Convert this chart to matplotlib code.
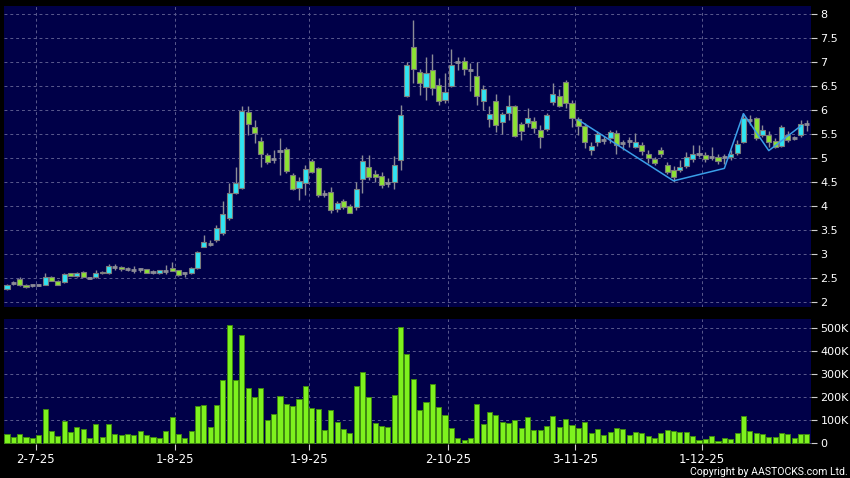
import matplotlib
matplotlib.use("Agg")
import matplotlib.pyplot as plt
from matplotlib import font_manager
from matplotlib.ticker import FuncFormatter

# one entry per trading day, oldest first
opens = [2.27, 2.41, 2.48, 2.37, 2.35, 2.35, 2.37, 2.52, 2.44, 2.42,
         2.60, 2.54, 2.64, 2.51, 2.52, 2.64, 2.60, 2.74, 2.74, 2.69,
         2.67, 2.69, 2.69, 2.64, 2.60, 2.66, 2.71, 2.67, 2.60, 2.60,
         2.72, 3.16, 3.22, 3.30, 3.45, 3.75, 4.27, 4.39, 5.96, 5.65,
         5.36, 5.06, 4.99, 5.15, 5.19, 4.65, 4.38, 4.48, 4.95, 4.79,
         4.26, 4.30, 3.94, 4.12, 4.01, 3.99, 4.56, 4.81, 4.67, 4.64,
         4.48, 4.51, 4.96, 6.30, 7.32, 6.79, 6.49, 6.85, 6.52, 6.22,
         6.51, 7.01, 7.03, 6.84, 6.71, 6.20, 5.81, 6.19, 5.75, 5.94,
         6.08, 5.71, 5.73, 5.78, 5.60, 5.61, 6.18, 6.30, 6.59, 6.15,
         5.81, 5.68, 5.17, 5.33, 5.39, 5.43, 5.53, 5.31, 5.36, 5.24,
         5.28, 5.10, 4.98, 5.17, 4.85, 4.76, 4.76, 4.84, 4.98, 5.10,
         5.07, 5.02, 5.03, 5.02, 5.02, 5.11, 5.33, 5.80, 5.83, 5.48,
         5.49, 5.36, 5.26, 5.49, 5.42, 5.48, 5.71]
highs = [2.38, 2.44, 2.52, 2.38, 2.37, 2.39, 2.60, 2.54, 2.46, 2.61,
         2.62, 2.63, 2.65, 2.53, 2.67, 2.66, 2.80, 2.80, 2.75, 2.73,
         2.75, 2.72, 2.70, 2.67, 2.68, 2.78, 2.84, 2.68, 2.63, 2.73,
         3.07, 3.40, 3.30, 3.60, 4.10, 4.48, 4.81, 6.08, 6.08, 5.80,
         5.45, 5.12, 5.17, 5.43, 5.24, 4.70, 4.62, 4.87, 4.99, 4.82,
         4.33, 4.40, 4.12, 4.16, 4.05, 4.50, 5.07, 5.07, 4.76, 4.72,
         4.58, 5.05, 6.11, 7.00, 7.89, 6.87, 7.12, 7.18, 6.67, 6.77,
         7.27, 7.12, 7.12, 6.98, 7.01, 6.53, 6.08, 6.35, 5.97, 6.32,
         6.11, 5.76, 6.04, 5.87, 5.69, 5.94, 6.56, 6.44, 6.63, 6.22,
         5.87, 5.73, 5.35, 5.56, 5.47, 5.59, 5.59, 5.39, 5.45, 5.53,
         5.35, 5.17, 5.03, 5.24, 4.93, 4.83, 4.96, 5.14, 5.28, 5.28,
         5.14, 5.23, 5.10, 5.10, 5.17, 5.39, 5.94, 5.90, 5.87, 5.69,
         5.56, 5.42, 5.69, 5.56, 5.46, 5.80, 5.79]
lows = [2.26, 2.37, 2.33, 2.30, 2.32, 2.33, 2.36, 2.44, 2.36, 2.41,
        2.54, 2.53, 2.52, 2.49, 2.51, 2.59, 2.58, 2.68, 2.65, 2.65,
        2.60, 2.64, 2.61, 2.58, 2.59, 2.59, 2.66, 2.55, 2.52, 2.59,
        2.70, 3.15, 3.18, 3.25, 3.40, 3.72, 4.25, 4.36, 5.48, 5.31,
        4.81, 4.88, 4.90, 4.65, 4.69, 4.33, 4.13, 4.24, 4.69, 4.20,
        4.20, 3.86, 3.88, 3.95, 3.85, 3.93, 4.27, 4.55, 4.50, 4.39,
        4.40, 4.37, 4.76, 6.28, 6.56, 6.32, 6.22, 6.32, 6.11, 6.15,
        6.49, 6.84, 6.73, 6.41, 6.11, 6.00, 5.66, 5.55, 5.50, 5.80,
        5.45, 5.38, 5.66, 5.52, 5.22, 5.56, 6.11, 6.06, 6.04, 5.66,
        5.48, 5.21, 5.07, 5.25, 5.29, 5.31, 5.10, 5.17, 5.24, 5.21,
        5.07, 4.90, 4.86, 5.03, 4.67, 4.51, 4.72, 4.79, 4.93, 5.03,
        4.93, 4.97, 4.89, 4.89, 4.97, 5.07, 5.31, 5.69, 5.38, 5.45,
        5.24, 5.21, 5.23, 5.35, 5.38, 5.45, 5.56]
closes = [2.37, 2.41, 2.35, 2.31, 2.35, 2.35, 2.52, 2.44, 2.37, 2.58,
          2.55, 2.62, 2.52, 2.51, 2.62, 2.60, 2.75, 2.74, 2.70, 2.69,
          2.67, 2.69, 2.62, 2.64, 2.67, 2.66, 2.66, 2.56, 2.60, 2.71,
          3.05, 3.25, 3.22, 3.55, 3.84, 4.27, 4.48, 5.99, 5.71, 5.53,
          5.10, 4.92, 4.99, 5.15, 4.74, 4.37, 4.53, 4.77, 4.71, 4.23,
          4.26, 3.92, 4.06, 3.98, 3.87, 4.37, 4.94, 4.60, 4.60, 4.44,
          4.48, 4.86, 5.90, 6.94, 6.87, 6.56, 6.77, 6.46, 6.19, 6.38,
          6.94, 7.01, 6.87, 6.84, 6.30, 6.44, 5.92, 5.69, 5.92, 6.08,
          5.47, 5.57, 5.85, 5.63, 5.45, 5.90, 6.33, 6.10, 6.16, 5.83,
          5.67, 5.33, 5.26, 5.50, 5.39, 5.55, 5.28, 5.31, 5.36, 5.35,
          5.16, 5.00, 4.91, 5.09, 4.71, 4.60, 4.82, 5.03, 5.08, 5.10,
          4.98, 5.02, 4.95, 5.02, 5.10, 5.29, 5.85, 5.80, 5.42, 5.60,
          5.35, 5.24, 5.65, 5.38, 5.42, 5.71, 5.71]
# volume, thousands of shares
volumes = [40, 29, 42, 28, 25, 38, 151, 52, 32, 97,
           49, 70, 62, 22, 84, 28, 84, 39, 36, 39,
           36, 54, 38, 26, 25, 54, 114, 39, 23, 52,
           161, 165, 70, 167, 274, 514, 275, 470, 241, 200,
           241, 100, 128, 207, 171, 161, 193, 249, 155, 148,
           57, 143, 91, 61, 46, 251, 310, 199, 88, 74,
           70, 209, 506, 388, 280, 143, 180, 258, 158, 122,
           68, 23, 16, 22, 170, 83, 135, 122, 93, 88,
           100, 65, 116, 57, 57, 75, 117, 70, 106, 78,
           65, 93, 46, 62, 36, 48, 67, 64, 36, 49,
           45, 33, 25, 43, 58, 54, 49, 49, 32, 14,
           20, 32, 12, 23, 19, 43, 119, 54, 46, 42,
           29, 29, 43, 41, 25, 39, 41]
volumes = [v * 1000 for v in volumes]

tick_idx = [4, 26, 47, 69, 89, 109]
tick_labels = ['2-7-25', '1-8-25', '1-9-25', '2-10-25', '3-11-25', '1-12-25']

zig_idx = [90, 105, 113, 116, 120, 125]
zig_price = [5.80, 4.53, 4.79, 5.93, 5.16, 5.67]

price_ticks = [2, 2.5, 3, 3.5, 4, 4.5, 5, 5.5, 6, 6.5, 7, 7.5, 8]
vol_ticks = [0, 100000, 200000, 300000, 400000, 500000]

BG = '#000048'
GRID = '#5a5a8e'
UP = '#30e4f2'
DOWN = '#8ce234'
WICK = '#8c8c96'
VOL = '#7ef21e'

n = len(closes)
x = list(range(n))

fig = plt.figure(figsize=(8.5, 4.78), dpi=100, facecolor='black')
ax = fig.add_axes([4 / 850, 171 / 478, 806.7 / 850, 301 / 478], facecolor=BG)
axv = fig.add_axes([4 / 850, 34.3 / 478, 806.7 / 850, 124.7 / 478], facecolor=BG)

# candles
ax.vlines(x, lows, highs, color=WICK, lw=1, zorder=2)
for i in x:
    o, c = opens[i], closes[i]
    if abs(c - o) < 1e-9:
        ax.hlines(o, i - 0.4, i + 0.4, color=WICK, lw=2, zorder=3)
    else:
        ax.bar(i, abs(c - o), bottom=min(o, c), width=0.8,
               color=UP if c > o else DOWN, edgecolor='#7c7c7c', lw=0.8, zorder=3)

ax.plot(zig_idx, zig_price, color='#3a9ee8', lw=1.1, zorder=4)

# volume
axv.bar(x, volumes, width=0.8, color=VOL, edgecolor='#3f8a10', lw=0.7, zorder=3)

for a in (ax, axv):
    a.set_xlim(-0.47, 126.6)
    for s in a.spines.values():
        s.set_visible(False)
    a.grid(True, color=GRID, ls=(0, (3, 3)), lw=0.7)
    a.set_axisbelow(True)
    a.set_xticks([t + 0.5 for t in tick_idx])
    a.yaxis.tick_right()
    a.tick_params(colors='#d0d0d0', labelcolor='white', length=4, width=0.8,
                  labelsize=8, pad=3)

ax.set_ylim(1.902, 8.173)
ax.set_yticks(price_ticks)
ax.set_yticklabels(['%g' % p for p in price_ticks])
ax.tick_params(axis='x', length=0, labelbottom=False)

axv.set_ylim(-1700, 540000)
axv.set_yticks(vol_ticks)
axv.yaxis.set_major_formatter(FuncFormatter(lambda v, p: '0' if v == 0 else '%dK' % (v / 1000)))
axv.set_xticklabels(tick_labels)
axv.tick_params(axis='x', labelsize=8.5, pad=3)

names = {f.name for f in font_manager.fontManager.ttflist}
if 'Liberation Sans Narrow' in names:
    cfont, csize = 'Liberation Sans Narrow', 9
elif 'Roboto' in names:
    cfont, csize = 'Roboto', 7.6
else:
    cfont, csize = 'DejaVu Sans', 7
fig.text(848 / 850, 3 / 478, 'Copyright by AASTOCKS.com Ltd.', color='white',
         fontsize=csize, family=cfont, ha='right', va='baseline')

fig.savefig('out.png', dpi=100, facecolor='black')
